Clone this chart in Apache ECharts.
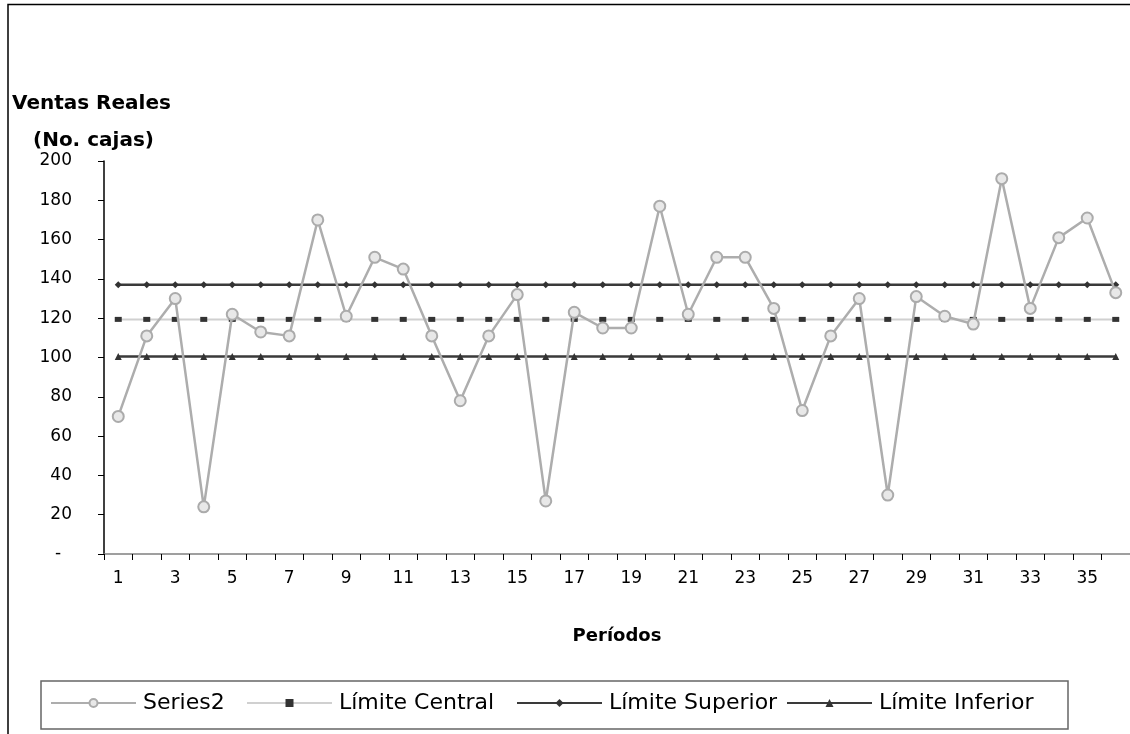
<!DOCTYPE html>
<html>
<head>
<meta charset="utf-8">
<script src="https://cdn.jsdelivr.net/npm/echarts@6/dist/echarts.min.js"></script>
<style>
  html, body { margin: 0; padding: 0; background: #fff; }
  #chart { width: 1130px; height: 734px; }
</style>
</head>
<body>
<div id="chart"></div>
<script>
// Periods 1..36
const periods = ['1','2','3','4','5','6','7','8','9','10','11','12','13','14','15','16','17','18',
                 '19','20','21','22','23','24','25','26','27','28','29','30','31','32','33','34','35','36'];
// Actual sales (boxes) per period
const ventas = [70, 111, 130, 24, 122, 113, 111, 170, 121, 151, 145, 111, 78, 111, 132, 27, 123, 115,
                115, 177, 122, 151, 151, 125, 73, 111, 130, 30, 131, 121, 117, 191, 125, 161, 171, 133];
// Control limits
const limiteCentral = 119.4;
const limiteSuperior = 137;
const limiteInferior = 100.5;
const yTicks = { min: 0, max: 200, interval: 20 };

const font = '"DejaVu Sans", Verdana, sans-serif';
const flat = v => periods.map(() => v);

const chart = echarts.init(document.getElementById('chart'), null, { renderer: 'canvas' });

const legendBase = {
  top: 692, itemWidth: 85, itemHeight: 10, padding: 0,
  textStyle: { fontFamily: font, fontSize: 22, color: '#000', padding: [0, 0, 0, 2] }
};

chart.setOption({
  animation: false,
  backgroundColor: '#fff',
  grid: { left: 104, right: 0, top: 161, bottom: 180 },
  graphic: [
    { type: 'rect', shape: { x: 8, y: 4.5, width: 1140, height: 760 },
      style: { fill: 'none', stroke: '#000', lineWidth: 1.5 }, silent: true },
    { type: 'rect', shape: { x: 41, y: 681, width: 1027, height: 48 },
      style: { fill: '#fff', stroke: '#666', lineWidth: 1.5 }, silent: true, z: -1 },
    { type: 'text', left: 12, top: 94,
      style: { text: 'Ventas Reales', font: 'bold 20px ' + font, fill: '#000' } },
    { type: 'text', left: 33, top: 131,
      style: { text: '(No. cajas)', font: 'bold 20px ' + font, fill: '#000' } }
  ],
  legend: [
    Object.assign({ left: 50, data: ['Series2'] }, legendBase),
    Object.assign({ left: 246, data: ['Límite Central'] }, legendBase),
    Object.assign({ left: 516, data: ['Límite Superior'] }, legendBase),
    Object.assign({ left: 786, data: ['Límite Inferior'] }, legendBase)
  ],
  xAxis: {
    type: 'category',
    data: periods,
    boundaryGap: true,
    name: 'Períodos',
    nameLocation: 'middle',
    nameGap: 73,
    nameTextStyle: { fontFamily: font, fontSize: 18, fontWeight: 'bold', color: '#000' },
    axisLine: { lineStyle: { color: '#808080', width: 1.5 } },
    axisTick: { show: true, interval: 0, length: 6, lineStyle: { color: '#000' } },
    axisLabel: { interval: 1, margin: 16, fontFamily: font, fontSize: 17, color: '#000' },
    splitLine: { show: false }
  },
  yAxis: {
    type: 'value',
    min: yTicks.min, max: yTicks.max, interval: yTicks.interval,
    axisLine: { show: true, lineStyle: { color: '#000', width: 1.5 } },
    axisTick: { show: true, length: 6, lineStyle: { color: '#000' } },
    axisLabel: { margin: 32, fontFamily: font, fontSize: 17, color: '#000',
                 formatter: v => v === 0 ? '-  ' : String(v) },
    splitLine: { show: false }
  },
  series: [
    {
      name: 'Límite Central', type: 'line', data: flat(limiteCentral),
      symbol: 'rect', symbolSize: [7, 5], z: 2,
      lineStyle: { color: '#d0d0d0', width: 2 },
      itemStyle: { color: '#333' }
    },
    {
      name: 'Límite Superior', type: 'line', data: flat(limiteSuperior),
      symbol: 'diamond', symbolSize: 7, z: 2,
      lineStyle: { color: '#3a3a3a', width: 2.5 },
      itemStyle: { color: '#333' }
    },
    {
      name: 'Límite Inferior', type: 'line', data: flat(limiteInferior),
      symbol: 'triangle', symbolSize: 7, z: 2,
      lineStyle: { color: '#3a3a3a', width: 2.5 },
      itemStyle: { color: '#333' }
    },
    {
      name: 'Series2', type: 'line', data: ventas,
      symbol: 'circle', symbolSize: 11, z: 3, showAllSymbol: true,
      lineStyle: { color: '#adadad', width: 2.5 },
      itemStyle: { color: '#e8e8e8', borderColor: '#ababab', borderWidth: 2 }
    }
  ]
});
</script>
</body>
</html>
